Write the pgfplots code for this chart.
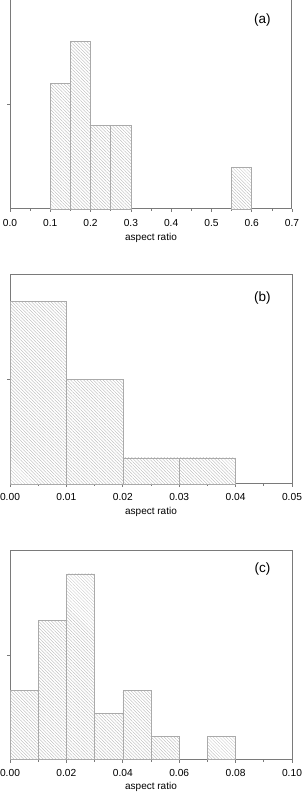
\documentclass[border=0pt]{standalone}
\usepackage{pgfplots}
\pgfplotsset{compat=1.18}
\usetikzlibrary{patterns.meta}
\usepackage{fontspec}
\setmainfont{Liberation Sans}
\definecolor{axgray}{HTML}{7A7A7A}
\definecolor{bargray}{HTML}{AAAAAA}
\definecolor{hatch}{HTML}{B4B4B4}
\pgfplotsset{
  histo/.style={
    scale only axis, width=282pt, height=209pt,
    anchor=south west, ymin=0,
    axis line style={axgray, line width=1pt},
    tick style={axgray, line width=0.7pt},
    tick align=outside,
    major tick length=3pt, minor tick length=2pt,
    xtick pos=bottom, ytick pos=left,
    yticklabels={},
    minor x tick num=1,
    scaled x ticks=false,
    /pgf/number format/assume math mode=true,
    /pgf/number format/fixed, /pgf/number format/fixed zerofill,
    tick label style={font=\fontsize{10.2}{12}\selectfont, black},
    xticklabel style={anchor=center, yshift=-10pt},
    label style={font=\fontsize{11.5}{13}\selectfont},
    every axis x label/.style={at={(axis description cs:0.5,0)}, anchor=center, yshift=-27.5pt},
    clip=false,
  },
  hbar/.style={fill=white, draw=bargray, line width=0.6pt,
    postaction={pattern={Lines[angle=-45,distance=2.3pt,line width=0.3pt]}, pattern color=hatch}},
}
\begin{document}
\begin{tikzpicture}
% (a)
\begin{axis}[histo, at={(10pt,585pt)}, xmin=0, xmax=0.7, ymax=5, ytick={2.5},
  xtick={0,0.1,0.2,0.3,0.4,0.5,0.6,0.7}, xticklabel style={/pgf/number format/precision=1, yshift=-0.7pt},
  xlabel={aspect ratio}, every axis x label/.append style={yshift=-1.5pt}]
\addplot[hbar] coordinates {(0.1,0)(0.1,3)(0.15,3)(0.15,0)} -- cycle;
\addplot[hbar] coordinates {(0.15,0)(0.15,4)(0.2,4)(0.2,0)} -- cycle;
\addplot[hbar] coordinates {(0.2,0)(0.2,2)(0.25,2)(0.25,0)} -- cycle;
\addplot[hbar] coordinates {(0.25,0)(0.25,2)(0.3,2)(0.3,0)} -- cycle;
\addplot[hbar] coordinates {(0.55,0)(0.55,1)(0.6,1)(0.6,0)} -- cycle;
\node[font=\fontsize{13.5}{15}\selectfont] at (axis description cs:0.895,0.904) {(a)};
\end{axis}
% (b)
\begin{axis}[histo, at={(10pt,310pt)}, xmin=0, xmax=0.05, ymax=8, ytick={4},
  xtick={0,0.01,0.02,0.03,0.04,0.05}, xticklabel style={/pgf/number format/precision=2},
  xlabel={aspect ratio}]
\addplot[hbar] coordinates {(0,0)(0,7)(0.01,7)(0.01,0)} -- cycle;
\addplot[hbar] coordinates {(0.01,0)(0.01,4)(0.02,4)(0.02,0)} -- cycle;
\addplot[hbar] coordinates {(0.02,0)(0.02,1)(0.03,1)(0.03,0)} -- cycle;
\addplot[hbar] coordinates {(0.03,0)(0.03,1)(0.04,1)(0.04,0)} -- cycle;
\node[font=\fontsize{13.5}{15}\selectfont] at (axis description cs:0.895,0.89) {(b)};
\end{axis}
% (c)
\begin{axis}[histo, at={(10pt,34.3pt)}, xmin=0, xmax=0.1, ymax=9, ytick={4.5},
  xtick={0,0.02,0.04,0.06,0.08,0.1}, xticklabel style={/pgf/number format/precision=2},
  xlabel={aspect ratio}]
\addplot[hbar] coordinates {(0,0)(0,3)(0.01,3)(0.01,0)} -- cycle;
\addplot[hbar] coordinates {(0.01,0)(0.01,6)(0.02,6)(0.02,0)} -- cycle;
\addplot[hbar] coordinates {(0.02,0)(0.02,8)(0.03,8)(0.03,0)} -- cycle;
\addplot[hbar] coordinates {(0.03,0)(0.03,2)(0.04,2)(0.04,0)} -- cycle;
\addplot[hbar] coordinates {(0.04,0)(0.04,3)(0.05,3)(0.05,0)} -- cycle;
\addplot[hbar] coordinates {(0.05,0)(0.05,1)(0.06,1)(0.06,0)} -- cycle;
\addplot[hbar] coordinates {(0.07,0)(0.07,1)(0.08,1)(0.08,0)} -- cycle;
\node[font=\fontsize{13.5}{15}\selectfont] at (axis description cs:0.895,0.912) {(c)};
\end{axis}
\pgfresetboundingbox
\useasboundingbox (0pt,0pt) rectangle (302pt,794pt);
\end{tikzpicture}
\end{document}
